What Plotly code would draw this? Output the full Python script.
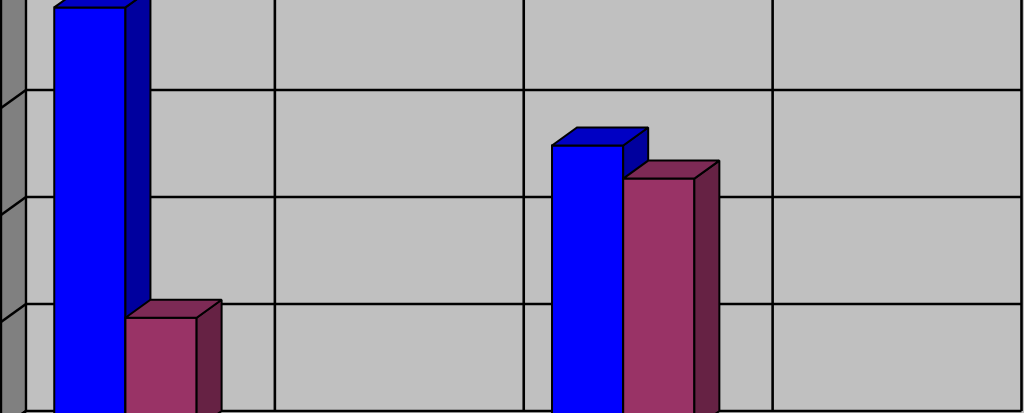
import plotly.graph_objects as go

# ---- data ----
categories = ["A", "B", "C", "D"]
series1 = [39.4, None, 26.5, None]   # blue
series2 = [10.4, None, 23.4, None]   # maroon
y_ticks = [0, 10, 20, 30]

# ---- geometry (data units) ----
px_per_cat = 249.0
px_per_val = 10.7
depth_x = -25.0 / px_per_cat   # shift from back plane to front plane
depth_y = -18.0 / px_per_val
bar_w = 0.286

x_lo = -0.5 - 26.0 / px_per_cat
x_hi = 3.5 + 2.5 / px_per_cat
y_lo = (411 - 413) / px_per_val
y_hi = 411 / px_per_val

colors = {
    0: dict(front="#0000FF", top="#0000C4", side="#00009E"),
    1: dict(front="#993366", top="#7D2A55", side="#662244"),
}

fig = go.Figure()

def poly(xs, ys, fill, width=2.0):
    fig.add_trace(go.Scatter(
        x=list(xs) + [xs[0]], y=list(ys) + [ys[0]], mode="lines",
        fill="toself", fillcolor=fill,
        line=dict(color="black", width=width),
        hoverinfo="skip", showlegend=False))

def line(xs, ys, width=2.6):
    fig.add_trace(go.Scatter(x=xs, y=ys, mode="lines",
                             line=dict(color="black", width=width),
                             hoverinfo="skip", showlegend=False))

# back wall gridlines (horizontal)
for t in y_ticks:
    line([-0.5, 3.5], [t, t])
# back wall vertical gridlines at category boundaries
for b in [0.5, 1.5, 2.5, 3.5]:
    line([b, b], [0, y_hi + 5])

# left side wall
wall_top = y_hi + 5
poly([-0.5, -0.5, -0.5 + depth_x, -0.5 + depth_x],
     [0, wall_top, wall_top + depth_y, 0 + depth_y], "#808080", width=2.4)
for t in y_ticks:
    line([-0.5, -0.5 + depth_x], [t, t + depth_y])

# bars
for i, cat in enumerate(categories):
    for s, vals in enumerate([series1, series2]):
        v = vals[i]
        if v is None:
            continue
        c = colors[s]
        xl = i - bar_w + s * bar_w
        xr = xl + bar_w
        fxl, fxr = xl + depth_x, xr + depth_x
        fb, ft = 0 + depth_y, v + depth_y
        # front face
        poly([fxl, fxr, fxr, fxl], [fb, fb, ft, ft], c["front"])
        # side face
        poly([fxr, xr, xr, fxr], [fb, 0, v, ft], c["side"])
        # top face
        poly([fxl, fxr, xr, xl], [ft, ft, v, v], c["top"])

fig.update_layout(
    width=1024, height=413,
    margin=dict(l=0, r=0, t=0, b=0),
    paper_bgcolor="#C0C0C0", plot_bgcolor="#C0C0C0",
    xaxis=dict(range=[x_lo, x_hi], visible=False, fixedrange=True),
    yaxis=dict(range=[y_lo, y_hi], visible=False, fixedrange=True),
    showlegend=False,
)

fig.write_html("out.html",
               post_script="document.body.style.margin='0';document.body.style.background='#C0C0C0';",
               config={"displayModeBar": False})
